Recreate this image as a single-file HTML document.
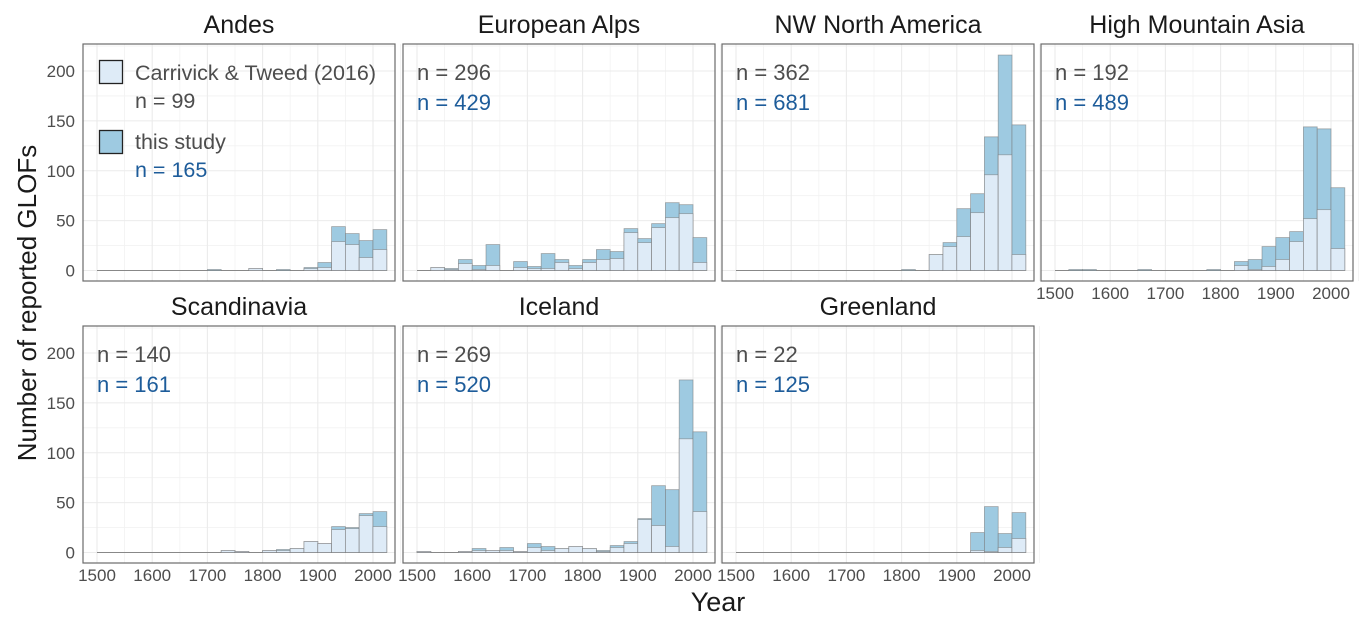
<!DOCTYPE html>
<html><head><meta charset="utf-8"><style>
body{margin:0;background:#fff;width:1371px;height:628px;overflow:hidden;font-family:"Liberation Sans",sans-serif}
svg text{font-family:"Liberation Sans",sans-serif}
</style></head><body>
<svg id="chart" width="1371" height="628"></svg>
<script>
const regions = ["Andes","European Alps","NW North America","High Mountain Asia","Scandinavia","Iceland","Greenland"];
const binStarts = [1500,1525,1550,1575,1600,1625,1650,1675,1700,1725,1750,1775,1800,1825,1850,1875,1900,1925,1950,1975,2000];
const countCT = ["n = 99","n = 296","n = 362","n = 192","n = 140","n = 269","n = 22"];
const countThis = ["n = 165","n = 429","n = 681","n = 489","n = 161","n = 520","n = 125"];
const andesThis = [0,0,0,0,0,0,0,0,1,0,0,2,0,1,0,3,8,44,37,30,41];
const andesCT   = [0,0,0,0,0,0,0,0,0,0,0,2,0,0,0,2,3,29,26,13,21];
const alpsThis  = [0,3,2,11,5,26,0,9,4,17,11,5,11,21,19,42,32,47,68,66,33];
const alpsCT    = [0,3,1,7,1,5,0,3,2,2,8,2,8,11,12,38,28,43,53,57,8];
const nwnaThis  = [0,0,0,0,0,0,0,0,0,0,0,0,1,0,16,28,62,77,134,216,146];
const nwnaCT    = [0,0,0,0,0,0,0,0,0,0,0,0,0,0,16,24,34,58,96,116,16];
const hmaThis   = [0,1,1,0,0,0,1,0,0,0,0,1,0,9,11,24,33,39,144,142,83];
const hmaCT     = [0,0,0,0,0,0,0,0,0,0,0,0,0,5,1,4,11,29,52,61,22];
const scanThis  = [0,0,0,0,0,0,0,0,0,2,1,0,2,3,4,11,9,26,25,39,41];
const scanCT    = [0,0,0,0,0,0,0,0,0,2,1,0,2,2,4,11,9,23,24,37,26];
const iceThis   = [1,0,0,1,4,2,5,1,9,6,4,6,4,2,7,11,34,67,63,173,121];
const iceCT     = [1,0,0,1,2,2,2,1,5,2,4,6,4,1,5,9,33,27,6,114,41];
const greenThis = [0,0,0,0,0,0,0,0,0,0,0,0,0,0,0,0,0,20,46,19,40];
const greenCT   = [0,0,0,0,0,0,0,0,0,0,0,0,0,0,0,0,0,2,1,5,14];
const xTicks = [1500,1600,1700,1800,1900,2000];
const yTicks = [0,50,100,150,200];
const seriesThis = [andesThis,alpsThis,nwnaThis,hmaThis,scanThis,iceThis,greenThis];
const seriesCT = [andesCT,alpsCT,nwnaCT,hmaCT,scanCT,iceCT,greenCT];

const NS="http://www.w3.org/2000/svg";
const svg=document.getElementById('chart');
function mk(tag,attrs,parent,text){const e=document.createElementNS(NS,tag);for(const k in attrs)e.setAttribute(k,attrs[k]);if(text!==undefined)e.textContent=text;(parent||svg).appendChild(e);return e;}
const PW=312, PH=237, binW=25;
const lefts=[83,403,722,1041];
const tops=[44,326];
function xs(left,year){return left+14+(year-1500)*0.552;}
function ys(top,v){return top+226.5-v*0.9975;}

regions.forEach((name,i)=>{
  const row=i<4?0:1, col=i%4;
  const L=lefts[col], T=tops[row];
  const g=mk('g',{});
  
  
  for(let v=25;v<=225;v+=50){mk('line',{x1:L,x2:L+PW,y1:ys(T,v),y2:ys(T,v),stroke:'#f2f2f2','stroke-width':0.8},g);}
  for(let y=1550;y<=2050;y+=100){mk('line',{x1:xs(L,y),x2:xs(L,y),y1:T,y2:T+PH,stroke:'#f2f2f2','stroke-width':0.8},g);}
  yTicks.forEach(v=>{mk('line',{x1:L,x2:L+PW,y1:ys(T,v),y2:ys(T,v),stroke:'#ebebeb','stroke-width':1.1},g);});
  xTicks.forEach(y=>{mk('line',{x1:xs(L,y),x2:xs(L,y),y1:T,y2:T+PH,stroke:'#ebebeb','stroke-width':1.1},g);});
  mk('line',{x1:xs(L,binStarts[0]),x2:xs(L,binStarts[binStarts.length-1]+binW),y1:ys(T,0),y2:ys(T,0),stroke:'#888','stroke-width':1},g);
  const th=seriesThis[i], ct=seriesCT[i];
  binStarts.forEach((b,k)=>{
    const x0=xs(L,b), x1=xs(L,b+binW);
    if(th[k]>0){
    const r=mk('rect',{x:x0,y:ys(T,th[k]),width:x1-x0,height:ys(T,0)-ys(T,th[k]),fill:'#9ecae1',stroke:'#777','stroke-opacity':0.6,'stroke-width':0.8},g);
    
    
    }
    if(ct[k]>0){
    const r2=mk('rect',{x:x0,y:ys(T,ct[k]),width:x1-x0,height:ys(T,0)-ys(T,ct[k]),fill:'#deebf7',stroke:'#777','stroke-opacity':0.6,'stroke-width':0.8},g);
    
    
    }
  });
  mk('rect',{x:L,y:T,width:PW,height:PH,fill:'none',stroke:'#6b6b6b','stroke-width':1.2},g);
  const t=mk('text',{x:L+PW/2,y:T-11,'text-anchor':'middle','font-size':25,fill:'#1a1a1a'},g,name);
  
  
  if(i>0){
    const a=mk('text',{x:L+14,y:T+36,'font-size':22,fill:'#4d4d4d'},g,countCT[i]);
    
    
    const b=mk('text',{x:L+14,y:T+66,'font-size':22,fill:'#1d5c9a'},g,countThis[i]);
    
    
  }
  if(col===0){
    yTicks.forEach(v=>{mk('text',{x:L-8,y:ys(T,v)+6,'text-anchor':'end','font-size':17,fill:'#4d4d4d'},g,String(v));});
  }
  if(row===1||col===3){
    xTicks.forEach(y=>{mk('text',{x:xs(L,y),y:T+PH+18,'text-anchor':'middle','font-size':17,fill:'#4d4d4d'},g,String(y));});
  }
});
const lg=mk('g',{});


mk('rect',{x:99.5,y:60.5,width:23,height:23,fill:'#deebf7',stroke:'#222','stroke-width':1.3},lg);
mk('text',{x:135,y:80,'font-size':21.5,fill:'#4d4d4d'},lg,'Carrivick & Tweed (2016)');
mk('text',{x:135,y:108,'font-size':21.5,fill:'#4d4d4d'},lg,countCT[0]);
mk('rect',{x:99.5,y:130.5,width:23,height:23,fill:'#9ecae1',stroke:'#222','stroke-width':1.3},lg);
mk('text',{x:135,y:149,'font-size':21.5,fill:'#4d4d4d'},lg,'this study');
mk('text',{x:135,y:177,'font-size':21.5,fill:'#1d5c9a'},lg,countThis[0]);
const xt=mk('text',{x:718,y:611,'text-anchor':'middle','font-size':27,fill:'#1a1a1a'},svg,'Year');


const yt=mk('text',{x:0,y:0,transform:'translate(36,303) rotate(-90)','text-anchor':'middle','font-size':26,fill:'#1a1a1a'},svg,'Number of reported GLOFs');


</script>
</body></html>
